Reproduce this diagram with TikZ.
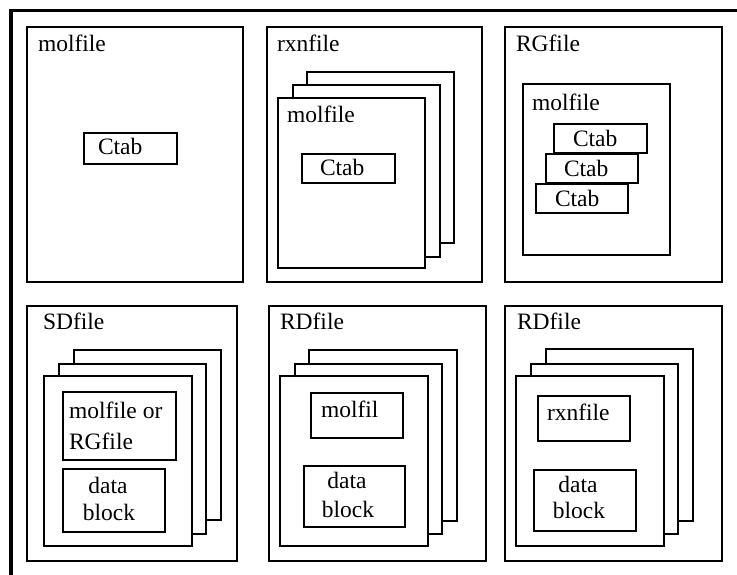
\documentclass[tikz,border=0pt]{standalone}
\usepackage{fontspec}
\setmainfont{Liberation Serif}
\tikzset{
  boxy/.style={draw, line width=2.4pt, fill=white, inner sep=0pt, outer sep=0pt, anchor=north west},
  lbl/.style={inner sep=0pt, outer sep=0pt, anchor=base west, font=\fontsize{23.5}{26}\selectfont},
  lblc/.style={lbl, anchor=base},
  framel/.style={line width=3.2pt}
}
\newcommand\mybox[5]{\node[boxy, minimum width={(#4-#2)*1pt}, minimum height={(#5-#3)*1pt}] (#1) at (#2,#3) {};}
\begin{document}
\begin{tikzpicture}[x=1pt,y=-1pt]
\useasboundingbox (0,0) rectangle (737,575);
\fill[white] (0,0) rectangle (737,575);
% outer frame
\draw[framel] (11,575) -- (11,10.5) -- (737,10.5);

% ---- panel 1: molfile
\mybox{p1}{27}{27}{243}{282}
\node[lbl] (p1t) at (38,52) {molfile};
\mybox{p1c}{84}{133}{177}{164}
\node[lbl] (p1ct) at (98,155) {Ctab};

% ---- panel 2: rxnfile
\mybox{p2}{267}{27}{482}{282}
\node[lbl] (p2t) at (277,52) {rxnfile};
\mybox{p2a}{307}{72}{454}{243}
\mybox{p2b}{293}{85}{440}{257}
\mybox{p2c}{278}{98}{425}{268}
\node[lbl] (p2ct) at (287,123) {molfile};
\mybox{p2d}{302}{154}{395}{183}
\node[lbl] (p2dt) at (320,176) {Ctab};

% ---- panel 3: RGfile
\mybox{p3}{505}{27}{722}{282}
\node[lbl] (p3t) at (516,52) {RGfile};
\mybox{p3m}{523}{84}{670}{255}
\node[lbl] (p3mt) at (532,111) {molfile};
\mybox{p3a}{554}{124}{647}{153}
\node[lbl] (p3at) at (573,147) {Ctab};
\mybox{p3b}{546}{154}{638}{183}
\node[lbl] (p3bt) at (564,177) {Ctab};
\mybox{p3c}{536}{184}{628}{213}
\node[lbl] (p3ct) at (555,207) {Ctab};

% ---- panel 4: SDfile
\mybox{p4}{27}{306}{237}{561}
\node[lbl] (p4t) at (43,329) {SDfile};
\mybox{p4a}{74}{350}{221}{520}
\mybox{p4b}{59}{364}{206}{534}
\mybox{p4c}{44}{376}{192}{546}
\mybox{p4m}{63}{392}{176}{460}
\node[lbl] (p4mt1) at (69,418) {molfile or};
\node[lbl] (p4mt2) at (69,449) {RGfile};
\mybox{p4d}{63}{469}{165}{532}
\node[lblc] (p4dt1) at (108,493) {data};
\node[lblc] (p4dt2) at (109,520) {block};

% ---- panel 5: RDfile (molfil)
\mybox{p5}{269}{306}{486}{561}
\node[lbl] (p5t) at (280,329) {RDfile};
\mybox{p5a}{309}{350}{457}{521}
\mybox{p5b}{295}{364}{442}{534}
\mybox{p5c}{280}{376}{428}{546}
\mybox{p5m}{311}{393}{403}{438}
\node[lbl] (p5mt) at (321,417) {molfil};
\mybox{p5d}{304}{466}{405}{527}
\node[lblc] (p5dt1) at (347,488) {data};
\node[lblc] (p5dt2) at (348,517) {block};

% ---- panel 6: RDfile (rxnfile)
\mybox{p6}{505}{306}{722}{561}
\node[lbl] (p6t) at (517,329) {RDfile};
\mybox{p6a}{546}{349}{693}{521}
\mybox{p6b}{531}{364}{678}{534}
\mybox{p6c}{516}{376}{664}{546}
\mybox{p6m}{538}{396}{630}{441}
\node[lbl] (p6mt) at (547,420) {rxnfile};
\mybox{p6d}{534}{470}{636}{531}
\node[lblc] (p6dt1) at (578,492) {data};
\node[lblc] (p6dt2) at (579,518) {block};
\end{tikzpicture}
\end{document}
